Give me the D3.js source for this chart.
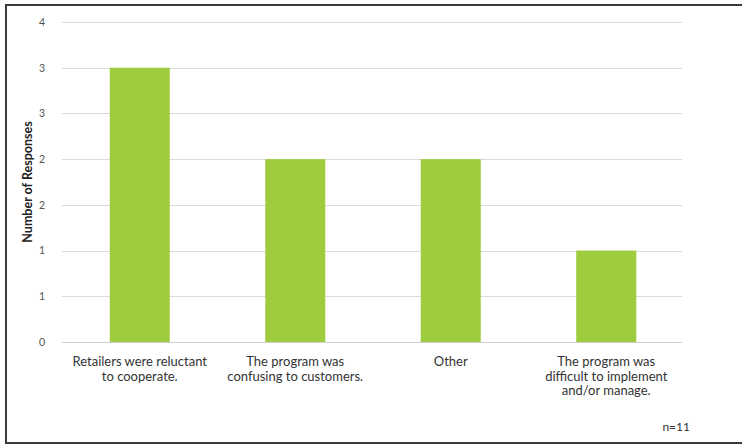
<!DOCTYPE html>
<html>
<head>
<meta charset="utf-8">
<script src="https://cdn.jsdelivr.net/npm/d3@7"></script>
<style>
  html, body { margin: 0; padding: 0; background: #fff; }
  svg { display: block; }
</style>
</head>
<body>
<svg id="chart" width="742" height="447"></svg>
<script>
// Survey responses by reason
const categories = [
  ["Retailers were reluctant", "to cooperate."],
  ["The program was", "confusing to customers."],
  ["Other"],
  ["The program was", "difficult to implement", "and/or manage."]
];
const responses = [3, 2, 2, 1];

// Axis ticks every half step, labelled as whole numbers
const tickValues = [0, 0.5, 1, 1.5, 2, 2.5, 3, 3.5];
const tickLabels = ["0", "1", "1", "2", "2", "3", "3", "4"];

const yTitle = "Number of Responses";
const note = "n=11";

const svg = d3.select("#chart");
const font = "Lato, 'Open Sans', sans-serif";

// outer frame
svg.append("rect")
  .attr("x", 6).attr("y", 5)
  .attr("width", 760).attr("height", 438)
  .attr("fill", "none")
  .attr("stroke", "#3a3a3a")
  .attr("stroke-width", 2);

const plot = { left: 62, right: 684, top: 22, bottom: 342 };

const x = d3.scaleBand()
  .domain(d3.range(categories.length))
  .range([plot.left, plot.right])
  .paddingInner(0.614)
  .paddingOuter(0.307);

const y = d3.scaleLinear()
  .domain([0, 3.5])
  .range([plot.bottom, plot.top]);

// gridlines
svg.append("g")
  .selectAll("line")
  .data(tickValues.filter(v => v > 0))
  .join("line")
  .attr("x1", plot.left).attr("x2", plot.right - 2)
  .attr("y1", d => Math.round(y(d)) + 0.5)
  .attr("y2", d => Math.round(y(d)) + 0.5)
  .attr("stroke", "#dadada")
  .attr("stroke-width", 1);

// y axis labels
const yAxis = d3.axisLeft(y)
  .tickValues(tickValues)
  .tickFormat((d, i) => tickLabels[i])
  .tickSize(0)
  .tickPadding(0);

const yg = svg.append("g")
  .attr("transform", `translate(${plot.left - 17},0)`)
  .call(yAxis);
yg.select(".domain").remove();
yg.selectAll("text")
  .attr("font-family", font)
  .attr("font-size", 10.5)
  .attr("fill", "#555");

// bars
svg.append("g")
  .selectAll("rect")
  .data(responses)
  .join("rect")
  .attr("x", (d, i) => x(i))
  .attr("y", d => y(d))
  .attr("width", x.bandwidth())
  .attr("height", d => y(0) - y(d))
  .attr("fill", "#9fcc3e");

// baseline
svg.append("line")
  .attr("x1", plot.left).attr("x2", plot.right - 2)
  .attr("y1", plot.bottom + 0.5).attr("y2", plot.bottom + 0.5)
  .attr("stroke", "#cfcfcf");

// category labels
const labels = svg.append("g")
  .selectAll("text")
  .data(categories)
  .join("text")
  .attr("x", (d, i) => x(i) + x.bandwidth() / 2)
  .attr("y", 366)
  .attr("text-anchor", "middle")
  .attr("font-family", font)
  .attr("font-size", 13)
  .attr("fill", "#333");
labels.selectAll("tspan")
  .data(d => d)
  .join("tspan")
  .attr("x", function () { return d3.select(this.parentNode).attr("x"); })
  .attr("dy", (d, i) => i === 0 ? 0 : 14.5)
  .text(d => d);

// y axis title
svg.append("text")
  .attr("transform", "translate(32,182) rotate(-90)")
  .attr("text-anchor", "middle")
  .attr("font-family", font)
  .attr("font-size", 12.5)
  .attr("font-weight", "bold")
  .attr("fill", "#222")
  .text(yTitle);

// sample size note
svg.append("text")
  .attr("x", 690).attr("y", 431)
  .attr("text-anchor", "end")
  .attr("font-family", font)
  .attr("font-size", 12)
  .attr("fill", "#333")
  .text(note);
</script>
</body>
</html>
